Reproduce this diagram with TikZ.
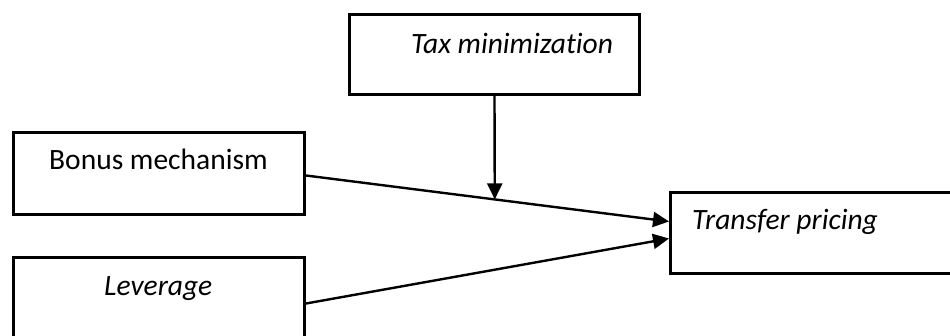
\documentclass[tikz,border=0pt]{standalone}
\usepackage{fontspec}
\setmainfont[Ligatures={NoCommon}]{Carlito}
\usetikzlibrary{arrows.meta}
\begin{document}
\begin{tikzpicture}[x=1pt,y=-1pt,
  box/.style={draw=black,line width=3pt,rectangle,inner sep=0pt,anchor=north west},
  lbl/.style={anchor=base west,inner sep=0pt,font=\fontsize{29.5}{35}\selectfont},
  conn/.style={line width=2.4pt,-{Triangle[length=16pt,width=15pt]}}]
\useasboundingbox (0,0) rectangle (950,335);
\clip (0,0) rectangle (950,335);
\node[box,minimum width=290pt,minimum height=80pt] (tax) at (348,13) {};
\node[box,minimum width=291pt,minimum height=82pt] (bonus) at (12,131) {};
\node[box,minimum width=291pt,minimum height=92pt] (lev) at (12,256) {};
\node[box,minimum width=290pt,minimum height=81pt] (tp) at (669,191) {};
\node[lbl] (taxt) at (411,53) {\itshape Tax minimization};
\node[lbl] (bonust) at (49,169) {Bonus mechanism};
\node[lbl] (levt) at (104,295) {\itshape Leverage};
\node[lbl] (tpt) at (692,229) {\itshape Transfer pricing};
\draw[conn] ([yshift=-2pt]bonus.east) -- ([yshift=11.5pt]tp.west) coordinate[pos=0.52] (mid);
\draw[conn] (lev.east) -- ([yshift=-5.5pt]tp.west);
\draw[conn] (tax.south) -- (mid);
\end{tikzpicture}
\end{document}
